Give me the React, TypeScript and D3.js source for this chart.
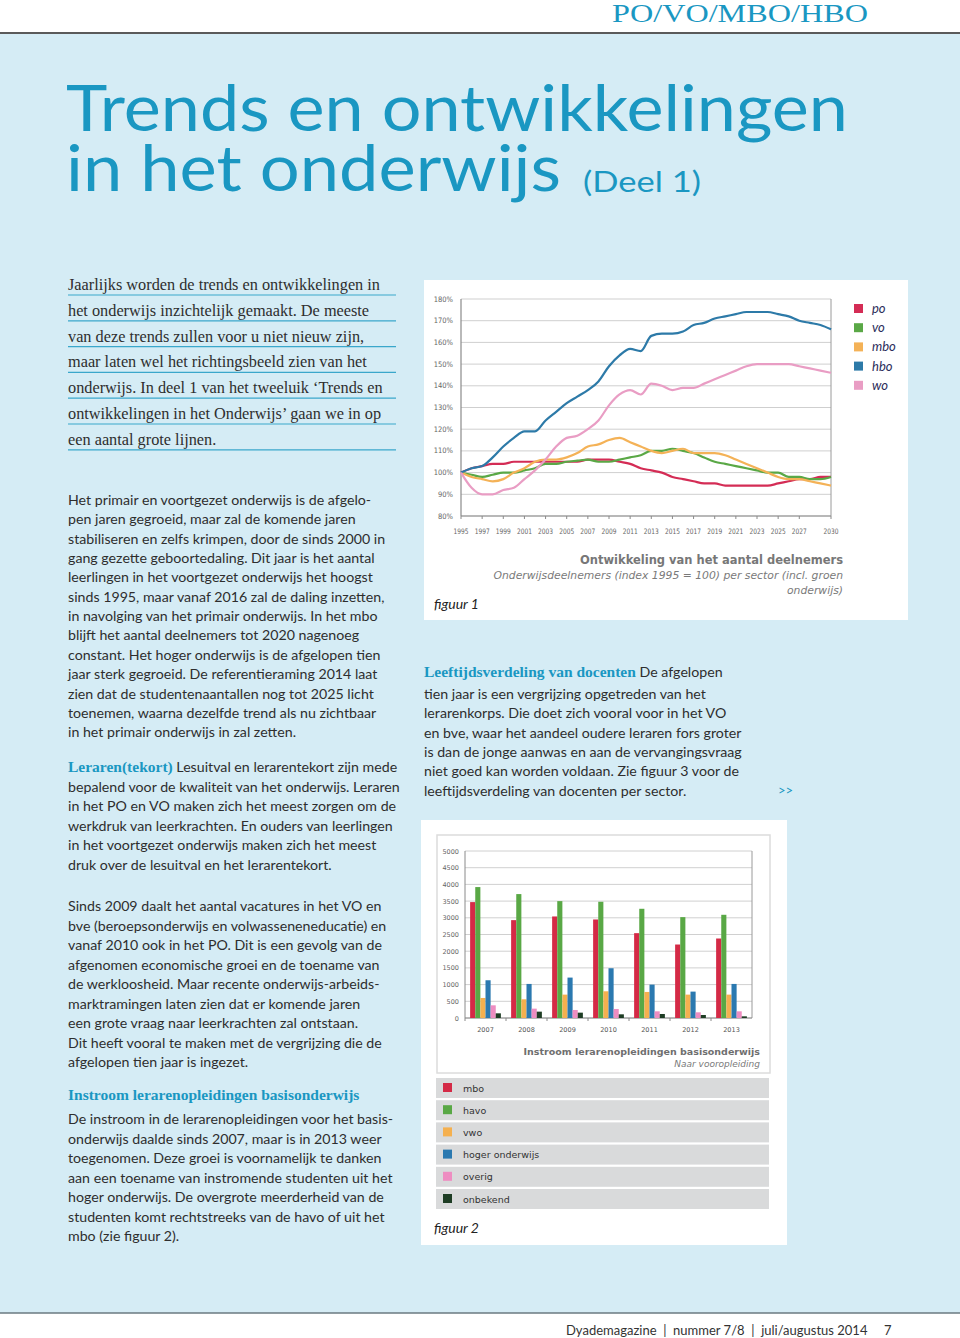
import React from 'react';
import * as d3 from 'd3';

// ---------- Figure 1 data ----------
const years = [1995, 1996, 1997, 1998, 1999, 2000, 2001, 2002, 2003, 2004, 2005, 2006, 2007, 2008, 2009, 2010, 2011, 2012, 2013, 2014, 2015, 2016, 2017, 2018, 2019, 2020, 2021, 2022, 2023, 2024, 2025, 2026, 2027, 2028, 2029, 2030];
const poValues = [100, 102, 103, 104, 104, 105, 105, 105, 105, 105, 105, 105, 106, 106, 106, 105, 104, 102, 101, 100, 98, 97, 96, 95, 95, 94, 94, 94, 94, 94, 95, 96, 97, 97, 98, 98];
const voValues = [100, 99, 98, 99, 100, 100, 101, 102, 104, 104, 105, 105.5, 106, 105, 105, 106, 107, 108, 110, 110, 111, 110, 109, 107, 105, 104, 103, 102, 101, 100, 100, 98, 98, 97, 97, 98];
const mboValues = [100, 98, 97, 96, 97, 100, 102, 105, 106, 106, 107, 109, 112, 113, 115, 116, 114, 112, 110, 109, 110, 111, 109, 109, 109, 108, 106, 104, 102, 100, 98, 97, 97, 96, 95, 94];
const hboValues = [100, 102, 103, 107, 112, 116, 119, 119, 124, 128, 132, 135, 138, 142, 149, 154, 157, 156, 163, 164, 164, 165, 168, 169, 171, 172, 173, 174, 174, 174, 173, 172, 170, 169, 168, 166];
const woValues = [100, 93, 90, 90, 92, 93, 97, 101, 106, 112, 116, 117, 120, 124, 131, 136, 138, 136, 141, 140, 138, 139, 139, 141, 143, 145, 147, 149, 150, 150, 150, 150, 149, 148, 147, 146];
const lineNames = ['po', 'vo', 'mbo', 'hbo', 'wo'];
const lineColors = ['#d42c55', '#5aa846', '#f4b257', '#2d7aa8', '#e99dc4'];
const yTicks1 = [80, 90, 100, 110, 120, 130, 140, 150, 160, 170, 180];
const xTicks1 = [1995, 1997, 1999, 2001, 2003, 2005, 2007, 2009, 2011, 2013, 2015, 2017, 2019, 2021, 2023, 2025, 2027, 2030];

// ---------- Figure 2 data ----------
const barYears = ['2007', '2008', '2009', '2010', '2011', '2012', '2013'];
const barCats = ['mbo', 'havo', 'vwo', 'hoger onderwijs', 'overig', 'onbekend'];
const barMbo = [3470, 2930, 3040, 2950, 2540, 2200, 2380];
const barHavo = [3920, 3710, 3500, 3480, 3270, 3020, 3090];
const barVwo = [600, 560, 700, 800, 780, 700, 700];
const barHo = [1130, 1020, 1210, 1490, 1000, 790, 1020];
const barOverig = [380, 280, 240, 270, 200, 170, 200];
const barOnbekend = [140, 190, 160, 110, 120, 90, 50];
const barColors = ['#d42a46', '#59a845', '#f5b04f', '#2b79b0', '#ee8dc1', '#1e3d24'];
const yTicks2 = [0, 500, 1000, 1500, 2000, 2500, 3000, 3500, 4000, 4500, 5000];

// ---------- Text ----------
const introLines = [
  'Jaarlijks worden de trends en ontwikkelingen in',
  'het onderwijs inzichtelijk gemaakt. De meeste',
  'van deze trends zullen voor u niet nieuw zijn,',
  'maar laten wel het richtingsbeeld zien van het',
  'onderwijs. In deel 1 van het tweeluik \u2018Trends en',
  'ontwikkelingen in het Onderwijs\u2019 gaan we in op',
  'een aantal grote lijnen.',
];
const para1 = [
  'Het primair en voortgezet onderwijs is de afgelo-',
  'pen jaren gegroeid, maar zal de komende jaren',
  'stabiliseren en zelfs krimpen, door de sinds 2000 in',
  'gang gezette geboortedaling. Dit jaar is het aantal',
  'leerlingen in het voortgezet onderwijs het hoogst',
  'sinds 1995, maar vanaf 2016 zal de daling inzetten,',
  'in navolging van het primair onderwijs. In het mbo',
  'blijft het aantal deelnemers tot 2020 nagenoeg',
  'constant. Het hoger onderwijs is de afgelopen tien',
  'jaar sterk gegroeid. De referentieraming 2014 laat',
  'zien dat de studentenaantallen nog tot 2025 licht',
  'toenemen, waarna dezelfde trend als nu zichtbaar',
  'in het primair onderwijs in zal zetten.',
];
const para2Rest = [
  'bepalend voor de kwaliteit van het onderwijs. Leraren',
  'in het PO en VO maken zich het meest zorgen om de',
  'werkdruk van leerkrachten. En ouders van leerlingen',
  'in het voortgezet onderwijs maken zich het meest',
  'druk over de lesuitval en het lerarentekort.',
];
const para3 = [
  'Sinds 2009 daalt het aantal vacatures in het VO en',
  'bve (beroepsonderwijs en volwasseneneducatie) en',
  'vanaf 2010 ook in het PO. Dit is een gevolg van de',
  'afgenomen economische groei en de toename van',
  'de werkloosheid. Maar recente onderwijs-arbeids-',
  'marktramingen laten zien dat er komende jaren',
  'een grote vraag naar leerkrachten zal ontstaan.',
  'Dit heeft vooral te maken met de vergrijzing die de',
  'afgelopen tien jaar is ingezet.',
];
const para4 = [
  'De instroom in de lerarenopleidingen voor het basis-',
  'onderwijs daalde sinds 2007, maar is in 2013 weer',
  'toegenomen. Deze groei is voornamelijk te danken',
  'aan een toename van instromende studenten uit het',
  'hoger onderwijs. De overgrote meerderheid van de',
  'studenten komt rechtstreeks van de havo of uit het',
  'mbo (zie figuur 2).',
];
const midRest = [
  'tien jaar is een vergrijzing opgetreden van het',
  'lerarenkorps. Die doet zich vooral voor in het VO',
  'en bve, waar het aandeel oudere leraren fors groter',
  'is dan de jonge aanwas en aan de vervangingsvraag',
  'niet goed kan worden voldaan. Zie figuur 3 voor de',
  'leeftijdsverdeling van docenten per sector.',
];

const TEAL = '#1a97c2';
const BODY = '#2e2e2e';
const SANS = 'Lato, "Open Sans", sans-serif';
const SERIF = '"Liberation Serif", "DejaVu Serif", serif';
const CHART = '"DejaVu Sans", Verdana, sans-serif';
const NARROW = '"Liberation Sans Narrow", "DejaVu Sans Condensed", Lato, sans-serif';
const NB = '\u00A0';

function Lines({ lines, x, y, dy, size, family = SANS, fill = BODY }: any) {
  return (
    <text fontSize={size} fontFamily={family} fill={fill}>
      {lines.map((l: string, i: number) => (
        <tspan key={i} x={x} y={y + i * dy}>{l}</tspan>
      ))}
    </text>
  );
}

function Figure1() {
  const x = d3.scaleLinear().domain([1995, 2030]).range([461, 831]);
  const y = d3.scaleLinear().domain([80, 180]).range([516, 299]);
  const series = [poValues, voValues, mboValues, hboValues, woValues];
  const line = d3.line<number>().x((_, i) => x(years[i])).y((d) => y(d)).curve(d3.curveMonotoneX);
  return (
    <g>
      <rect x={424} y={280} width={484} height={340} fill="#ffffff" />
      {yTicks1.map((t) => (
        <line key={t} x1={461} x2={831} y1={y(t)} y2={y(t)} stroke="#cfcfcf" strokeWidth={1} />
      ))}
      {yTicks1.map((t) => (
        <text key={t} x={453} y={y(t) + 2.5} fontSize={7.5} fontFamily={NARROW} fill="#666" textAnchor="end">{t}%</text>
      ))}
      <line x1={461} x2={461} y1={299} y2={516} stroke="#8a8a8a" strokeWidth={1.2} />
      <line x1={831} x2={831} y1={299} y2={516} stroke="#9a9a9a" strokeWidth={1} />
      <line x1={461} x2={831} y1={516} y2={516} stroke="#8a8a8a" strokeWidth={1.2} />
      {xTicks1.map((t) => (
        <g key={t}>
          <line x1={x(t)} x2={x(t)} y1={516} y2={519} stroke="#8a8a8a" />
          <text x={x(t) - 7.5} y={534} fontSize={7.5} fontFamily={CHART} fill="#666" textLength={15} lengthAdjust="spacingAndGlyphs">{t}</text>
        </g>
      ))}
      {series.map((s, i) => (
        <path key={i} d={line(s) || ''} fill="none" stroke={lineColors[i]} strokeWidth={2.2} />
      ))}
      {lineNames.map((n, i) => (
        <g key={n}>
          <rect x={854} y={304 + i * 19.2} width={9} height={9} fill={lineColors[i]} />
          <text x={872} y={313 + i * 19.2} fontSize={13} fontStyle="italic" fontFamily={SANS} fill="#2b2d5a">{n}</text>
        </g>
      ))}
      <text x={843} y={564} fontSize={11.5} fontWeight="bold" fontFamily={CHART} fill="#777" textAnchor="end">Ontwikkeling van het aantal deelnemers</text>
      <text x={843} y={579} fontSize={10.8} fontStyle="italic" fontFamily={CHART} fill="#7a7a7a" textAnchor="end">Onderwijsdeelnemers (index 1995 = 100) per sector (incl. groen</text>
      <text x={843} y={594} fontSize={10.8} fontStyle="italic" fontFamily={CHART} fill="#7a7a7a" textAnchor="end">onderwijs)</text>
      <text x={434} y={609} fontSize={14} fontStyle="italic" fontFamily={SANS} fill="#222">figuur 1</text>
    </g>
  );
}

function Figure2() {
  const x0 = d3.scaleBand().domain(barYears).range([465, 752]).paddingInner(0.25).paddingOuter(0.125);
  const x1 = d3.scaleBand().domain(barCats).range([0, x0.bandwidth()]);
  const y = d3.scaleLinear().domain([0, 5000]).range([1018, 851]);
  const cols = [barMbo, barHavo, barVwo, barHo, barOverig, barOnbekend];
  const step = x0.step();
  return (
    <g>
      <rect x={421} y={820} width={366} height={425} fill="#ffffff" />
      <rect x={437} y={835} width={333} height={238} fill="#ffffff" stroke="#dcdcdc" strokeWidth={1.5} />
      {yTicks2.map((t) => (
        <g key={t}>
          <line x1={465} x2={752} y1={y(t)} y2={y(t)} stroke="#d0d0d0" strokeWidth={1} />
          <text x={459} y={y(t) + 2.5} fontSize={6.5} fontFamily={CHART} fill="#666" textAnchor="end">{t}</text>
        </g>
      ))}
      <line x1={465} x2={465} y1={851} y2={1018} stroke="#8a8a8a" strokeWidth={1} />
      <line x1={752} x2={752} y1={851} y2={1018} stroke="#9a9a9a" strokeWidth={1} />
      <line x1={465} x2={752} y1={1018} y2={1018} stroke="#8a8a8a" strokeWidth={1} />
      {barYears.map((yr, gi) => (
        <g key={yr}>
          <line x1={465 + gi * step} x2={465 + gi * step} y1={1018} y2={1021} stroke="#8a8a8a" />
          {cols.map((c, ci) => (
            <rect key={ci} x={(x0(yr) as number) + (x1(barCats[ci]) as number)} y={y(c[gi])} width={x1.bandwidth()} height={1018 - y(c[gi])} fill={barColors[ci]} />
          ))}
          <text x={(x0(yr) as number) + x0.bandwidth() / 2} y={1032} fontSize={6.5} fontFamily={CHART} fill="#555" textAnchor="middle">{yr}</text>
        </g>
      ))}
      <text x={760} y={1055} fontSize={9.5} fontWeight="bold" fontFamily={CHART} fill="#6f6f6f" textAnchor="end">Instroom lerarenopleidingen basisonderwijs</text>
      <text x={760} y={1067} fontSize={9} fontStyle="italic" fontFamily={CHART} fill="#7a7a7a" textAnchor="end">Naar vooropleiding</text>
      {barCats.map((c, i) => (
        <g key={c}>
          <rect x={436} y={1078 + i * 22.2} width={333} height={20} fill="#d9dadb" />
          <rect x={443} y={1083 + i * 22.2} width={9} height={9} fill={barColors[i]} />
          <text x={463} y={1091.5 + i * 22.2} fontSize={9.5} fontFamily={CHART} fill="#333">{c}</text>
        </g>
      ))}
      <text x={434} y={1233} fontSize={14} fontStyle="italic" fontFamily={SANS} fill="#222">figuur 2</text>
    </g>
  );
}

export default function App() {
  return (
    <svg width={960} height={1338} style={{ position: 'absolute', left: 0, top: 0, display: 'block' }}>
      <rect x={0} y={0} width={960} height={1338} fill="#ffffff" />
      <rect x={0} y={33} width={960} height={1280} fill="#d5ecf5" />
      <line x1={0} x2={960} y1={33} y2={33} stroke="#5a5a5a" strokeWidth={2} />
      <line x1={0} x2={960} y1={1313} y2={1313} stroke="#6a7a80" strokeWidth={1.5} />
      <text x={612} y={22} fontSize={25} fontFamily={SERIF} fill={TEAL} textLength={256} lengthAdjust="spacingAndGlyphs">PO/VO/MBO/HBO</text>

      <text x={66} y={131} fontSize={64} fontFamily={SANS} fill={TEAL} textLength={782} lengthAdjust="spacingAndGlyphs">Trends en ontwikkelingen</text>
      <text x={66} y={191} fontSize={64} fontFamily={SANS} fill={TEAL} textLength={495} lengthAdjust="spacingAndGlyphs">in het onderwijs</text>
      <text x={583} y={192} fontSize={28} fontFamily={SANS} fill={TEAL} textLength={118} lengthAdjust="spacingAndGlyphs">(Deel 1)</text>

      {introLines.map((l, i) => (
        <g key={i}>
          <text x={68} y={290 + i * 25.8} fontSize={16.3} fontFamily={SERIF} fill={BODY}>{l}</text>
          <line x1={68} x2={396} y1={295 + i * 25.8} y2={295 + i * 25.8} stroke="#3aa7cb" strokeWidth={1.2} />
        </g>
      ))}

      <Lines lines={para1} x={68} y={505} dy={19.35} size={14.2} />

      <text x={68} y={772} fontSize={14.2} fontFamily={SANS} fill={BODY}>
        <tspan fontFamily={SERIF} fontWeight="bold" fill={TEAL} fontSize={15.5}>Leraren(tekort)</tspan>
        <tspan> Lesuitval en lerarentekort zijn mede</tspan>
      </text>
      <Lines lines={para2Rest} x={68} y={791.5} dy={19.5} size={14.2} />

      <Lines lines={para3} x={68} y={911} dy={19.5} size={14.2} />

      <text x={68} y={1100} fontSize={15.5} fontFamily={SERIF} fontWeight="bold" fill={TEAL}>Instroom lerarenopleidingen basisonderwijs</text>
      <Lines lines={para4} x={68} y={1124} dy={19.5} size={14.2} />

      <Figure1 />

      <text x={424} y={677} fontSize={14.2} fontFamily={SANS} fill={BODY}>
        <tspan fontFamily={SERIF} fontWeight="bold" fill={TEAL} fontSize={15.5}>Leeftijdsverdeling van docenten</tspan>
        <tspan> De afgelopen</tspan>
      </text>
      <Lines lines={midRest} x={424} y={699} dy={19.3} size={14.2} />
      <text x={778} y={795} fontSize={13} fontFamily={SANS} fill={TEAL}>&gt;&gt;</text>

      <Figure2 />

      <text x={566} y={1335} fontSize={13} fontFamily={SANS} fill="#333">{`Dyademagazine${NB}${NB}|${NB}${NB}nummer 7/8${NB}${NB}|${NB}${NB}juli/augustus 2014`}</text>
      <text x={884} y={1335} fontSize={13} fontFamily={SANS} fill="#333">7</text>
    </svg>
  );
}
